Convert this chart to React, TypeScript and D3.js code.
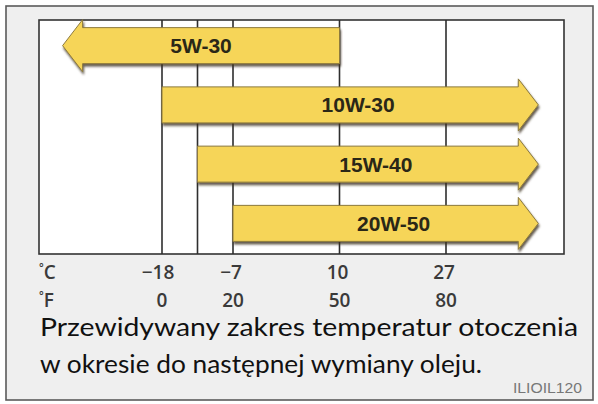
import React from "react";
import * as d3 from "d3";

// Oil grades (rows, top to bottom)
const oils = ["5W-30", "10W-30", "15W-40", "20W-50"];
// Temperature range in °F (low end, high end) — open ends continue as arrows
const lowF = [-28, 0, 10, 20];
const highF = [50, 106, 106, 106];
const pointsLeft = [true, false, false, false];

// Grid lines (°F) and axis labels
const gridF = [0, 10, 20, 50, 80];
const tickF = [0, 20, 50, 80];
const tickC = ["\u221218", "\u22127", "10", "27"];
const tickFLabels = ["0", "20", "50", "80"];

const caption1 = "Przewidywany zakres temperatur otoczenia";
const caption2 = "w okresie do następnej wymiany oleju.";
const code = "ILIOIL120";

const W = 598;
const H = 404;
const box = { left: 39, top: 20, right: 564, bottom: 254 };

export default function App() {
  const x = d3.scaleLinear().domain([0, 80]).range([162, 446]);
  const y = d3.scaleBand<string>().domain(oils).range([16, 253]).paddingInner(0);

  const bodyH = 36;
  const headH = 52;
  const headL = 20;

  const arrowPath = (i: number) => {
    const cy = (y(oils[i]) as number) + y.bandwidth() / 2;
    const x0 = x(lowF[i]);
    const x1 = x(highF[i]);
    const p = d3.path();
    const t = cy - bodyH / 2;
    const b = cy + bodyH / 2;
    if (pointsLeft[i]) {
      const hb = x0 + headL;
      p.moveTo(x0, cy);
      p.lineTo(hb, cy - headH / 2);
      p.lineTo(hb, t);
      p.lineTo(x1, t);
      p.lineTo(x1, b);
      p.lineTo(hb, b);
      p.lineTo(hb, cy + headH / 2);
      p.closePath();
    } else {
      const hb = x1 - headL;
      p.moveTo(x0, t);
      p.lineTo(hb, t);
      p.lineTo(hb, cy - headH / 2);
      p.lineTo(x1, cy);
      p.lineTo(hb, cy + headH / 2);
      p.lineTo(hb, b);
      p.lineTo(x0, b);
      p.closePath();
    }
    return p.toString();
  };

  const axisFont = "'Open Sans', 'Liberation Sans', sans-serif";

  return (
    <svg
      width={W}
      height={H}
      style={{ position: "absolute", left: 0, top: 0, display: "block" }}
      fontFamily="'Liberation Sans', Arial, sans-serif"
    >
      <defs>
        <filter id="shadow" x="-10%" y="-30%" width="120%" height="180%">
          <feDropShadow dx="1" dy="2.5" stdDeviation="1.2" floodColor="#3a3320" floodOpacity="0.8" />
        </filter>
      </defs>
      <rect x={0} y={0} width={W} height={H} fill="#ffffff" />
      <rect x={6} y={6} width={587} height={394} fill="#efefef" stroke="#5a5a5a" strokeWidth={1.6} />
      <rect
        x={box.left}
        y={box.top}
        width={box.right - box.left}
        height={box.bottom - box.top}
        fill="#ffffff"
        stroke="#333"
        strokeWidth={1.6}
      />
      {gridF.map((f) => (
        <line key={f} x1={x(f)} x2={x(f)} y1={box.top} y2={box.bottom} stroke="#2e2e2e" strokeWidth={1.6} />
      ))}
      {oils.map((o, i) => {
        const cy = (y(o) as number) + y.bandwidth() / 2;
        const mid = (x(lowF[i]) + x(highF[i])) / 2 + (pointsLeft[i] ? 0 : 8);
        return (
          <g key={o}>
            <path d={arrowPath(i)} fill="#f6d558" stroke="#8d7a3c" strokeWidth={1} filter="url(#shadow)" />
            <text
              x={mid}
              y={cy}
              dy="0.36em"
              textAnchor="middle"
              fontSize={21}
              fontWeight="bold"
              fill="#2a2717"
            >
              {o}
            </text>
          </g>
        );
      })}
      <text x={39} y={279} fontSize={19} fontWeight={600} fontFamily={axisFont} fill="#3a3a3a">
        <tspan fontSize={11} dy="-8">°</tspan>
        <tspan dy="8">C</tspan>
      </text>
      <text x={39} y={307} fontSize={19} fontWeight={600} fontFamily={axisFont} fill="#3a3a3a">
        <tspan fontSize={11} dy="-8">°</tspan>
        <tspan dy="8">F</tspan>
      </text>
      {tickF.map((f, i) => (
        <g key={f}>
          <text x={x(f) - (i === 0 ? 4 : 2)} y={279} textAnchor="middle" fontSize={19} fontWeight={600} fontFamily={axisFont} fill="#3a3a3a">
            {tickC[i]}
          </text>
          <text x={x(f)} y={307} textAnchor="middle" fontSize={19} fontWeight={600} fontFamily={axisFont} fill="#3a3a3a">
            {tickFLabels[i]}
          </text>
        </g>
      ))}
      <text x={40} y={336} fontSize={25} fill="#111" fontFamily="Lato, 'Open Sans', sans-serif" textLength={538} lengthAdjust="spacingAndGlyphs">
        {caption1}
      </text>
      <text x={40} y={373} fontSize={25} fill="#111" fontFamily="Lato, 'Open Sans', sans-serif" textLength={442} lengthAdjust="spacingAndGlyphs">
        {caption2}
      </text>
      <text x={582} y={393} textAnchor="end" fontSize={14} fill="#777" fontFamily="'Liberation Sans Narrow', 'Liberation Sans', sans-serif" textLength={69} lengthAdjust="spacingAndGlyphs">
        {code}
      </text>
    </svg>
  );
}
